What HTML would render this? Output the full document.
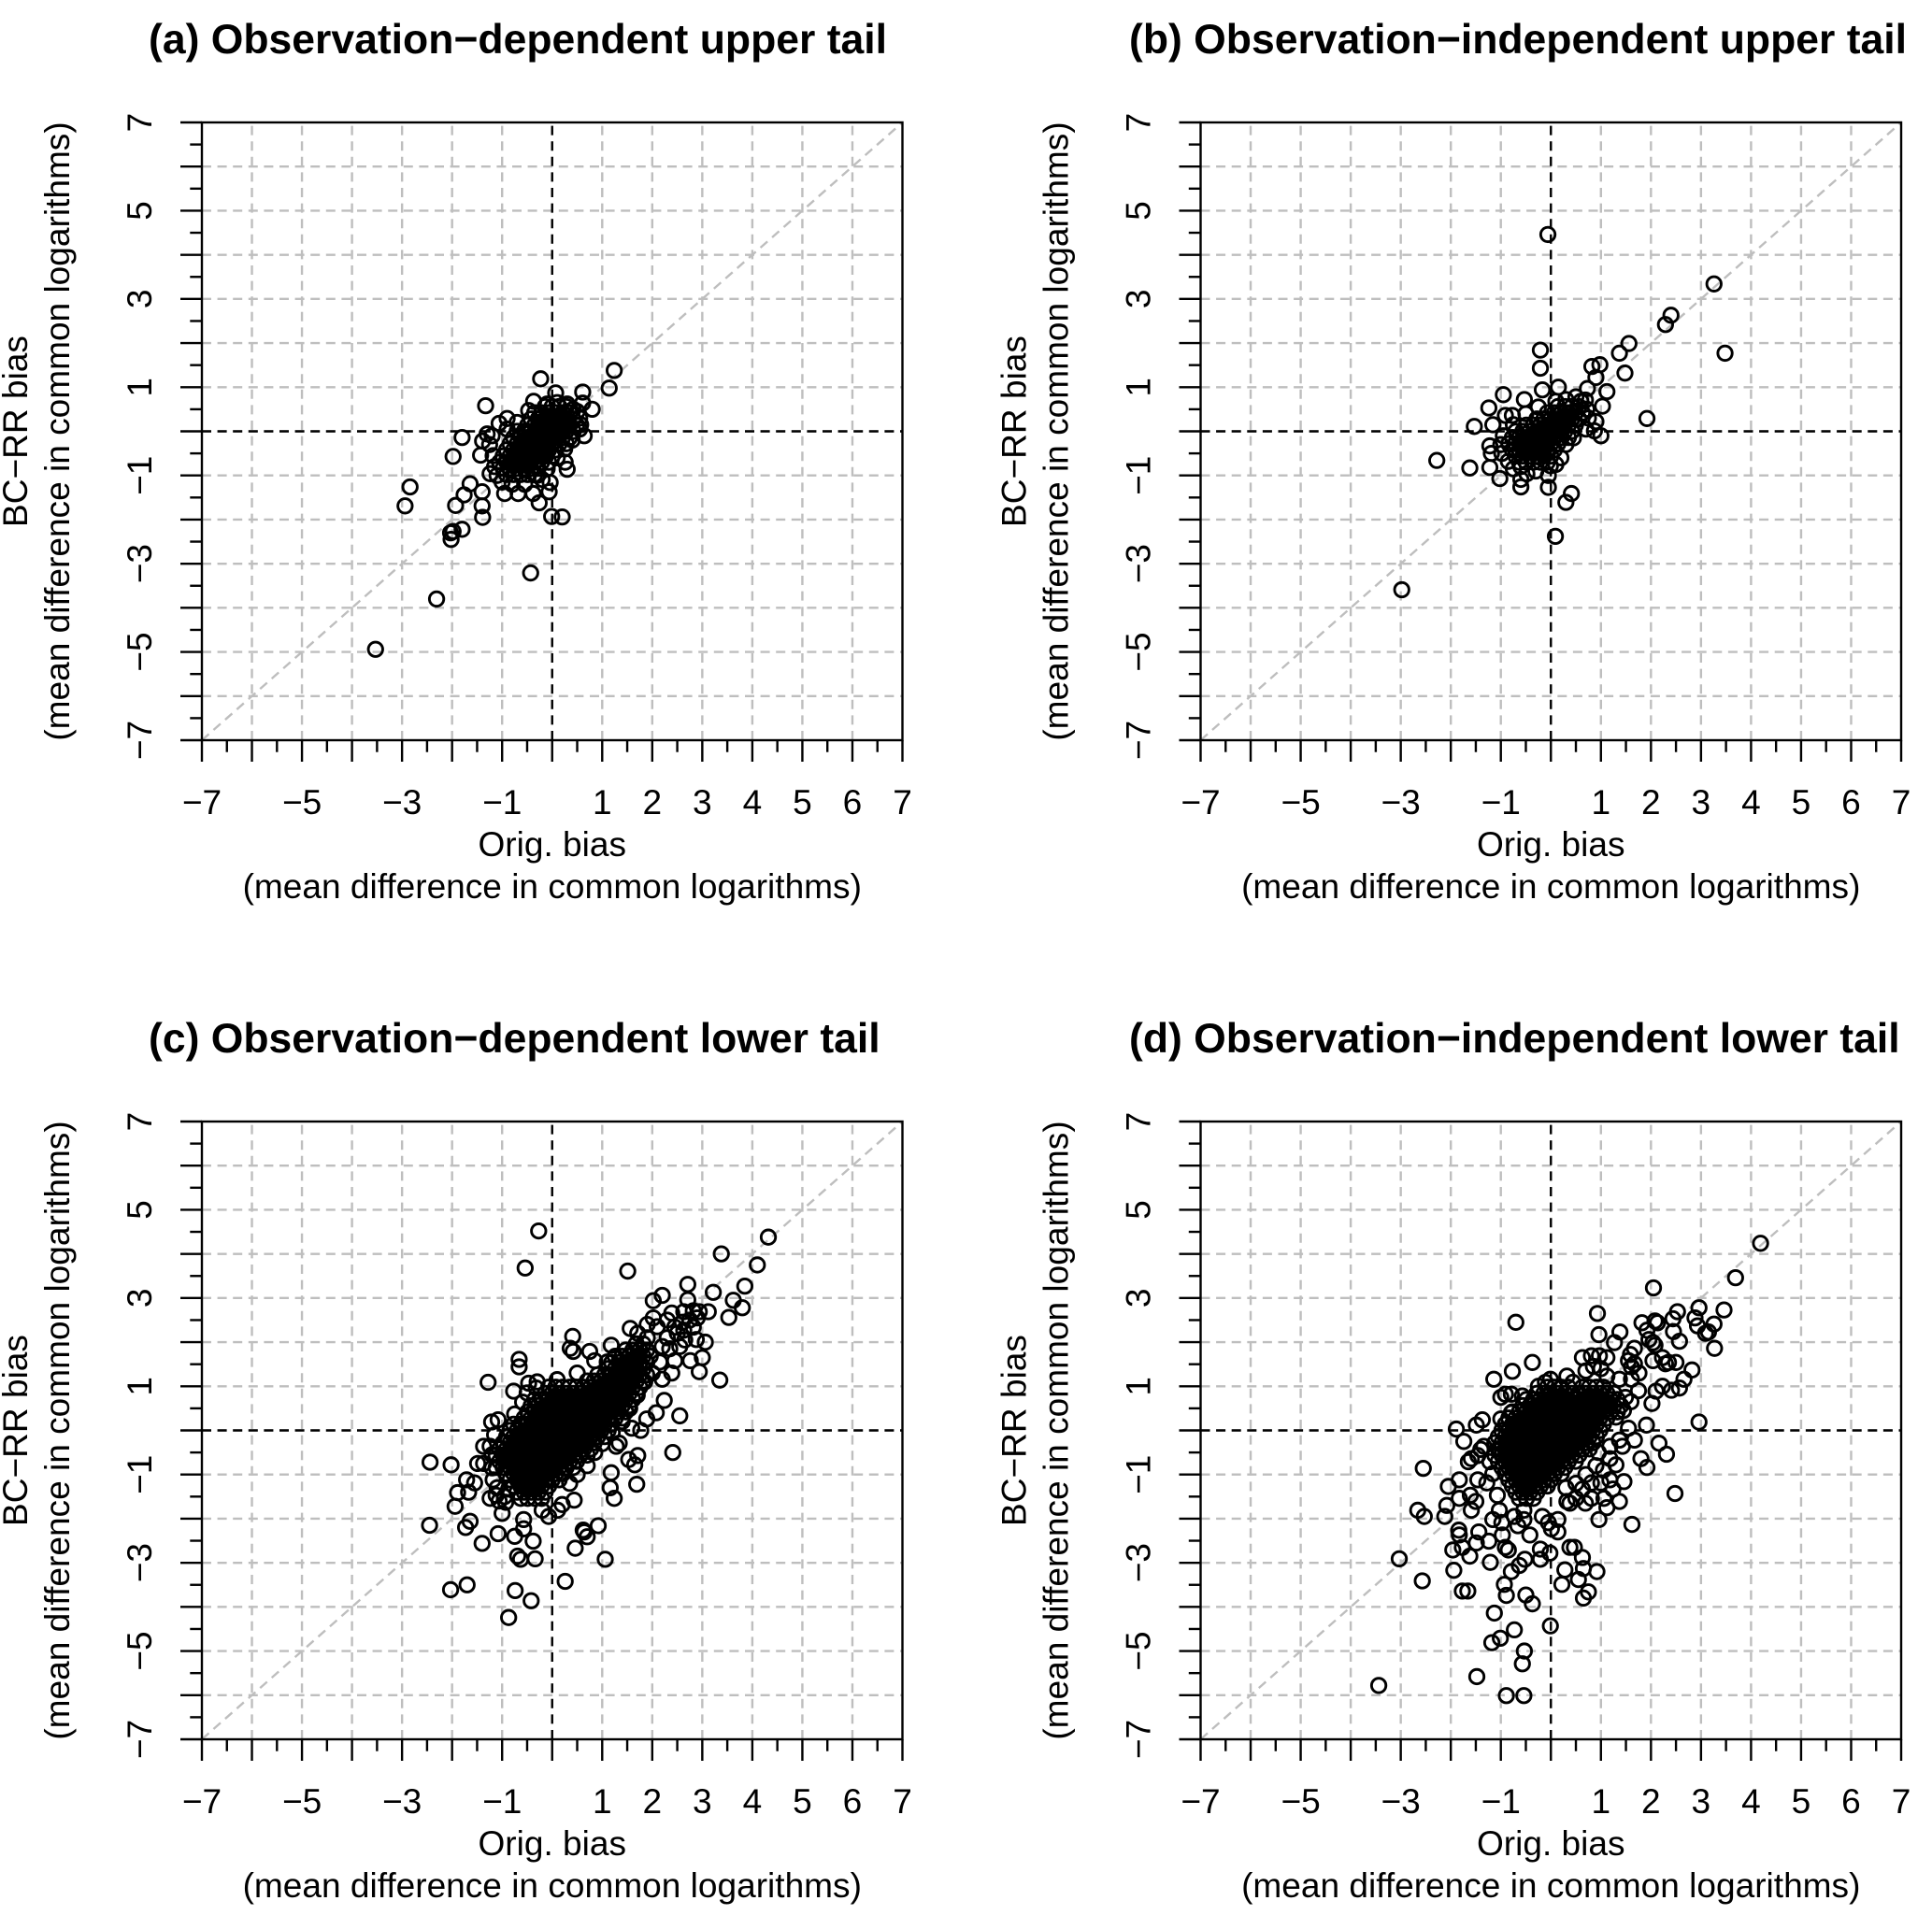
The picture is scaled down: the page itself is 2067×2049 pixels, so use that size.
<!DOCTYPE html>
<html lang="en">
<head>
<meta charset="utf-8">
<title>Bias scatter plots</title>
<style>
html,body{margin:0;padding:0;background:#fff;}
svg{display:block;font-family:"Liberation Sans",Arial,sans-serif;fill:#000;}
</style>
</head>
<body>
<svg id="chart" xmlns="http://www.w3.org/2000/svg" width="2067" height="2049" viewBox="0 0 2067 2049">
<rect x="0" y="0" width="2067" height="2049" fill="#fff"/>
</svg>
<script>
const gridValues = [-6,-5,-4,-3,-2,-1,0,1,2,3,4,5,6];
const majorTicks = [-7,-6,-5,-4,-3,-2,-1,0,1,2,3,4,5,6,7];
const minorTicks = [-6.5,-5.5,-4.5,-3.5,-2.5,-1.5,-0.5,0.5,1.5,2.5,3.5,4.5,5.5,6.5];
const xTickLabels = [-7,-5,-3,-1,1,2,3,4,5,6,7];
const yTickLabels = [-7,-5,-3,-1,1,3,5,7];

const pointsA = [
[1.24,1.38],[1.14,.98],[-.23,1.19],[.07,.87],[.61,.89],[.61,.64],[.8,.5],[-1.33,.58],[-.37,.68],[-.47,.47],[-.9,.29],[-1.06,.18],[-1.8,-.14],[-1.98,-.57],[-1.3,-.06],[-1.39,-.22],[-1.43,-.54],[-1.24,-.96],[-2.84,-1.26],[-2.94,-1.69],[-1.64,-1.19],[-1.76,-1.44],[-1.4,-1.37],[-1.4,-1.69],[-1.39,-1.95],[-1.93,-1.68],[-1.8,-2.22],[-1.98,-2.27],[-2.03,-2.3],[-2.02,-2.45],[-2.31,-3.8],[-3.53,-4.94],[-.43,-3.21],[-.01,-1.93],[.2,-1.94],[-.26,-1.62],[-.38,-1.41],[-.95,-1.41],[-.68,-1.41],[-.06,-1.37],[-.04,-1.16],[-.2,-1.09],[.3,-.86],[.26,-.7],[.64,-.1],[.57,.15],[.42,.5],
[-1.2,-.1],[-1.25,-.3],[-1.18,-.55],[-1.15,-.8],[-1.1,-1],[-1,-1.15],[-.8,-1.2],[-.55,-1.2],[-.3,-1],[-.1,-.85],[.1,-.6],[.25,-.4],[.4,-.2],[.55,.05],[.55,.3],[.5,.45],[.3,.62],[.1,.65],[-.1,.62],[-.7,.2],[-.9,.05],
[-.14,.56],[0,.56],[.14,.56],[.28,.56],
[-.35,.42],[-.21,.42],[-.07,.42],[.07,.42],[.21,.42],[.35,.42],
[-.42,.28],[-.28,.28],[-.14,.28],[0,.28],[.14,.28],[.28,.28],[.42,.28],
[-.49,.14],[-.35,.14],[-.21,.14],[-.07,.14],[.07,.14],[.21,.14],[.35,.14],[.49,.14],
[-.7,0],[-.56,0],[-.42,0],[-.28,0],[-.14,0],[0,0],[.14,0],[.28,0],[.42,0],
[-.77,-.14],[-.63,-.14],[-.49,-.14],[-.35,-.14],[-.21,-.14],[-.07,-.14],[.07,-.14],[.21,-.14],[.35,-.14],
[-.84,-.28],[-.7,-.28],[-.56,-.28],[-.42,-.28],[-.28,-.28],[-.14,-.28],[0,-.28],[.14,-.28],[.28,-.28],
[-.91,-.42],[-.77,-.42],[-.63,-.42],[-.49,-.42],[-.35,-.42],[-.21,-.42],[-.07,-.42],[.07,-.42],
[-.98,-.56],[-.84,-.56],[-.7,-.56],[-.56,-.56],[-.42,-.56],[-.28,-.56],[-.14,-.56],[0,-.56],
[-1.05,-.7],[-.91,-.7],[-.77,-.7],[-.63,-.7],[-.49,-.7],[-.35,-.7],[-.21,-.7],[-.07,-.7],
[-.98,-.84],[-.84,-.84],[-.7,-.84],[-.56,-.84],[-.42,-.84],[-.28,-.84],
[-.91,-.98],[-.77,-.98],[-.63,-.98],[-.49,-.98],[-.35,-.98]
];

const pointsB = [
[-.06,4.46],[3.26,3.34],[2.4,2.63],[2.29,2.42],[3.48,1.77],[1.56,1.99],[1.37,1.77],[-.21,1.84],[-.21,1.43],[.82,1.47],[.98,1.51],[.9,1.22],[1.48,1.32],[1.12,.9],[.73,.97],[1.03,.57],[.15,1],[-.17,.94],[1.92,.29],[1,-.1],[.87,.01],[.9,.22],[.69,.71],[.5,.78],[-.95,.83],[-1.24,.53],[-.53,.72],[-.91,.36],[-.77,.36],[-1.53,.11],[-1.16,.15],[-2.28,-.66],[-1.62,-.83],[-1.22,-.82],[-1.22,-.33],[-1.19,-.5],[-1.02,-1.07],[-.85,-.68],[-.6,-1.09],[-.6,-1.26],[-.48,-.96],[-.05,-1],[-.05,-1.27],[-.01,-.78],[.2,-.6],[.41,-1.41],[.3,-1.61],[.09,-2.38],[-2.98,-3.59],
[-.95,-.1],[-1,-.3],[-.98,-.5],[-.75,-.85],[-.6,-.8],[-.3,-.9],[.1,-.75],[.3,-.3],[.45,-.15],[.7,.05],[.75,.3],[.72,.5],[.6,.68],[.3,.72],[.1,.68],[-.25,.55],[-.5,.4],[-.75,.15],
[.14,.56],[.28,.56],[.42,.56],[.56,.56],
[-.07,.42],[.07,.42],[.21,.42],[.35,.42],[.49,.42],[.63,.42],
[-.28,.28],[-.14,.28],[0,.28],[.14,.28],[.28,.28],[.42,.28],[.56,.28],
[-.49,.14],[-.35,.14],[-.21,.14],[-.07,.14],[.07,.14],[.21,.14],[.35,.14],[.49,.14],
[-.7,0],[-.56,0],[-.42,0],[-.28,0],[-.14,0],[0,0],[.14,0],[.28,0],[.42,0],
[-.77,-.14],[-.63,-.14],[-.49,-.14],[-.35,-.14],[-.21,-.14],[-.07,-.14],[.07,-.14],[.21,-.14],[.35,-.14],
[-.84,-.28],[-.7,-.28],[-.56,-.28],[-.42,-.28],[-.28,-.28],[-.14,-.28],[0,-.28],[.14,-.28],
[-.77,-.42],[-.63,-.42],[-.49,-.42],[-.35,-.42],[-.21,-.42],[-.07,-.42],[.07,-.42],
[-.7,-.56],[-.56,-.56],[-.42,-.56],[-.28,-.56],[-.14,-.56],[0,-.56],
[-.63,-.7],[-.49,-.7],[-.35,-.7],[-.21,-.7],[-.07,-.7]
];

const pointsC = [
[-.27,4.52],[-.54,3.68],[1.51,3.61],[4.32,4.38],[3.38,4],[4.1,3.75],[3.85,3.27],[3.8,2.78],[3.62,2.95],[3.22,3.13],[3.53,2.56],[2.71,3.31],[2.71,2.96],[2.2,3.06],[2.02,2.94],[3.12,2.69],[2.94,2.69],[2.82,2.71],[2.63,2.69],[2.39,2.66],[3.06,2],[2.94,1.33],[3.35,1.14],[2.55,.33],[2.41,-.5],[2.82,2.34],[2.63,2.27],[2.45,2.34],[2.88,2.06],[3,1.65],[2.76,1.58],[2.45,1.58],[2.02,2.55],[1.56,2.31],[1.71,2.2],[1.18,1.93],[.41,2.13],[.36,1.86],[.42,1.79],[.75,1.79],[.85,1.58],
[-.66,1.61],[-.66,1.44],[-1.28,1.09],[-.77,.89],[-.47,1.07],[-.32,.96],[-.59,.64],[-.75,.37],[-1.21,.19],[-1.08,.24],[-1.37,-.36],[-1.24,-.36],[-1.49,-.75],[-1.37,-.75],[-2.44,-.72],[-2.02,-.78],[-1.71,-1.12],[-1.89,-1.41],[-1.67,-1.4],[-1.55,-1.19],[-1.94,-1.72],[-2.45,-2.15],[-1.64,-2.06],[-1.73,-2.2],[-1.4,-2.56],[-1.08,-2.34],[-.75,-2.4],[-.57,-2.02],[-.57,-2.23],[-.38,-2.51],[-.69,-2.85],[-.63,-2.92],[-.34,-2.91],[-2.03,-3.61],[-1.7,-3.5],[-.74,-3.63],[-.42,-3.86],[-.87,-4.24],[.26,-3.42],[1.06,-2.92],[.46,-2.67],[.62,-2.26],[.64,-2.3],[.7,-2.41],[.92,-2.16],
[.44,-1.58],[.11,-1.81],[-.07,-1.95],[.2,-1.68],[-.2,-1.81],[-.93,-1.63],[-1.06,-1.6],[-1,-1.88],[-1.24,-1.54],[-1.18,-1.12],[-1.12,-1.47],[-.87,-1.33],
[1.69,-1.22],[1.65,-.78],[1.71,-.57],[1.53,-.66],[1.24,-1.54],[1.16,-1.3],[1.18,-.96],[1.59,.05],[1.34,-.29],[1.28,-.36],[1.89,.26],[2.08,.4],[2.24,.68],[2.39,1.3],[2.2,1.16],[1.77,0],
[-1.15,-.1],[-1.2,-.55],[-1.2,-.85],[-1.1,-1.3],[-.95,-1.5],[.35,-1.2],[.5,-1],[.7,-.8],[.85,-.5],[1,-.3],[1.2,-.05],[1.4,.2],[1.55,.5],[1.7,.8],[1.85,1.1],[2,1.3],[2.15,1.55],[2.2,1.9],[1.9,2.1],[1.55,1.7],[1.1,1.55],[.5,1.3],[.1,1.15],[-.3,1.1],[-.5,.85],[2.3,2.1],[2.5,2.2],[2.65,2.05],[2.55,1.9],[2.35,1.85],[2.6,2.45],[2.75,2.5],[2.9,2.55],[2.3,2.5],[2.1,2.35],[1.9,2.4],
[1.68,1.96],[1.82,1.96],
[1.47,1.82],[1.61,1.82],[1.75,1.82],[1.89,1.82],
[1.26,1.68],[1.4,1.68],[1.54,1.68],[1.68,1.68],[1.82,1.68],[1.96,1.68],
[1.19,1.54],[1.33,1.54],[1.47,1.54],[1.61,1.54],[1.75,1.54],[1.89,1.54],
[1.12,1.4],[1.26,1.4],[1.4,1.4],[1.54,1.4],[1.68,1.4],[1.82,1.4],
[.91,1.26],[1.05,1.26],[1.19,1.26],[1.33,1.26],[1.47,1.26],[1.61,1.26],[1.75,1.26],[1.89,1.26],
[.7,1.12],[.84,1.12],[.98,1.12],[1.12,1.12],[1.26,1.12],[1.4,1.12],[1.54,1.12],[1.68,1.12],[1.82,1.12],
[-.07,.98],[.07,.98],[.21,.98],[.35,.98],[.49,.98],[.63,.98],[.77,.98],[.91,.98],[1.05,.98],[1.19,.98],[1.33,.98],[1.47,.98],[1.61,.98],[1.75,.98],
[-.14,.84],[0,.84],[.14,.84],[.28,.84],[.42,.84],[.56,.84],[.7,.84],[.84,.84],[.98,.84],[1.12,.84],[1.26,.84],[1.4,.84],[1.54,.84],[1.68,.84],
[-.35,.7],[-.21,.7],[-.07,.7],[.07,.7],[.21,.7],[.35,.7],[.49,.7],[.63,.7],[.77,.7],[.91,.7],[1.05,.7],[1.19,.7],[1.33,.7],[1.47,.7],[1.61,.7],
[-.42,.56],[-.28,.56],[-.14,.56],[0,.56],[.14,.56],[.28,.56],[.42,.56],[.56,.56],[.7,.56],[.84,.56],[.98,.56],[1.12,.56],[1.26,.56],[1.4,.56],[1.54,.56],
[-.49,.42],[-.35,.42],[-.21,.42],[-.07,.42],[.07,.42],[.21,.42],[.35,.42],[.49,.42],[.63,.42],[.77,.42],[.91,.42],[1.05,.42],[1.19,.42],[1.33,.42],[1.47,.42],
[-.56,.28],[-.42,.28],[-.28,.28],[-.14,.28],[0,.28],[.14,.28],[.28,.28],[.42,.28],[.56,.28],[.7,.28],[.84,.28],[.98,.28],[1.12,.28],[1.26,.28],[1.4,.28],
[-.77,.14],[-.63,.14],[-.49,.14],[-.35,.14],[-.21,.14],[-.07,.14],[.07,.14],[.21,.14],[.35,.14],[.49,.14],[.63,.14],[.77,.14],[.91,.14],[1.05,.14],[1.19,.14],
[-.84,0],[-.7,0],[-.56,0],[-.42,0],[-.28,0],[-.14,0],[0,0],[.14,0],[.28,0],[.42,0],[.56,0],[.7,0],[.84,0],[.98,0],[1.12,0],
[-.91,-.14],[-.77,-.14],[-.63,-.14],[-.49,-.14],[-.35,-.14],[-.21,-.14],[-.07,-.14],[.07,-.14],[.21,-.14],[.35,-.14],[.49,-.14],[.63,-.14],[.77,-.14],[.91,-.14],[1.05,-.14],
[-.98,-.28],[-.84,-.28],[-.7,-.28],[-.56,-.28],[-.42,-.28],[-.28,-.28],[-.14,-.28],[0,-.28],[.14,-.28],[.28,-.28],[.42,-.28],[.56,-.28],[.7,-.28],[.84,-.28],
[-1.05,-.42],[-.91,-.42],[-.77,-.42],[-.63,-.42],[-.49,-.42],[-.35,-.42],[-.21,-.42],[-.07,-.42],[.07,-.42],[.21,-.42],[.35,-.42],[.49,-.42],[.63,-.42],[.77,-.42],
[-1.12,-.56],[-.98,-.56],[-.84,-.56],[-.7,-.56],[-.56,-.56],[-.42,-.56],[-.28,-.56],[-.14,-.56],[0,-.56],[.14,-.56],[.28,-.56],[.42,-.56],[.56,-.56],[.7,-.56],
[-1.05,-.7],[-.91,-.7],[-.77,-.7],[-.63,-.7],[-.49,-.7],[-.35,-.7],[-.21,-.7],[-.07,-.7],[.07,-.7],[.21,-.7],[.35,-.7],[.49,-.7],
[-1.12,-.84],[-.98,-.84],[-.84,-.84],[-.7,-.84],[-.56,-.84],[-.42,-.84],[-.28,-.84],[-.14,-.84],[0,-.84],[.14,-.84],[.28,-.84],[.42,-.84],
[-.91,-.98],[-.77,-.98],[-.63,-.98],[-.49,-.98],[-.35,-.98],[-.21,-.98],[-.07,-.98],[.07,-.98],[.21,-.98],
[-.84,-1.12],[-.7,-1.12],[-.56,-1.12],[-.42,-1.12],[-.28,-1.12],[-.14,-1.12],[0,-1.12],[.14,-1.12],
[-.77,-1.26],[-.63,-1.26],[-.49,-1.26],[-.35,-1.26],[-.21,-1.26],[-.07,-1.26],
[-.7,-1.4],[-.56,-1.4],[-.42,-1.4],[-.28,-1.4],[-.14,-1.4],
[-.63,-1.54],[-.49,-1.54],[-.35,-1.54],[-.21,-1.54]
];

const pointsD = [
[4.19,4.24],[3.69,3.46],[2.05,3.23],[3.46,2.73],[2.96,2.78],[2.88,2.55],[2.93,2.37],[2.53,2.69],[2.44,2.53],[3.26,2.41],[3.15,2.23],[3.27,1.86],[3.09,2.2],[.93,2.65],[.96,2.17],[1.38,2.23],[1.27,1.99],[1.82,2.44],[2.08,2.48],[2.13,2.44],[1.92,2.27],[2.45,2.24],[2.57,2.02],[2.04,1.99],[1.96,2.06],[2.08,1.93],[-.7,2.45],[-.37,1.54],[-.77,1.34],[-1.14,1.16],
[1.67,1.86],[1.59,1.72],[1.61,1.44],[2.04,1.58],[2.23,1.65],[2.35,1.54],[2.5,1.54],[2.29,1.51],[2.82,1.37],[2.66,1.16],[2.57,.96],[2.41,.91],[2.23,1],[2.1,.89],[2.02,.61],[2.96,.19],[1.91,.12],[2.16,-.29],[2.31,-.54],[1.92,-.84],[1.8,-.64],[2.48,-1.43],[1.62,-2.13],[.96,-2.02],
[1.37,-1.61],[1.46,-1.16],[1.12,-1.75],[.69,-1.65],[.38,-1.65],
[-.91,.82],[-.79,.82],[-.57,.78],[-1,.75],[-.79,.4],[-1,.26],[-1.37,.24],[-1.49,.12],[-1.89,.03],[-1.74,-.25],
[-2.55,-.86],[-2.05,-1.27],[-1.83,-1.12],[-1.83,-1.54],[-1.61,-1.47],[-1.5,-1.61],[-1.59,-1.81],[-2.08,-1.7],[-2.12,-1.95],[-2.66,-1.81],[-2.53,-1.95],
[-1.84,-2.26],[-1.83,-2.37],[-1.44,-2.3],[-1.49,-2.55],[-1.24,-2.51],[-1.96,-2.71],[-1.77,-2.65],[-1.62,-2.85],[-3.03,-2.91],[-1.94,-3.17],[-1.21,-2.99],[-.91,-2.65],[-.97,-2.37],[-.85,-2.71],[-2.57,-3.41],[-1.77,-3.64],[-1.66,-3.64],
[-.79,-3.2],[-.63,-3.06],[-.52,-2.92],[-.21,-2.92],[-.21,-2.69],[-.02,-2.78],[.38,-2.65],[.47,-2.65],[.63,-2.88],[.65,-3.13],[.28,-3.16],[.92,-3.2],[.22,-3.49],[.55,-3.38],[.75,-3.66],[.65,-3.8],[-.93,-3.49],[-.89,-3.74],[-.5,-3.73],[-.37,-3.93],[-1.13,-4.14],[-.73,-4.52],[-.01,-4.43],[-1.18,-4.81],[-1.01,-4.71],[-.53,-5],[-.57,-5.29],[-1.48,-5.58],[-3.44,-5.78],[-.89,-6.01],[-.54,-6.01],
[-1.16,-2.02],[-.98,-2.09],[-.73,-1.95],[-.54,-2.02],[-.42,-2.37],[-.17,-1.95],[-.05,-2.09],[.14,-2.02],[.14,-2.3],[.01,-2.23],[-.54,-1.81],[-.66,-2.16],[-1.07,-1.47],[-1.03,-1.81],[-1.28,-1.19],[-1.46,-1.12],
[-1.65,-.71],[-1.59,-.64],[-1.46,-.57],[-1.4,-.43],[-1.34,-.36],[-1.22,-.71],[-1.16,-.98],[-1.03,-.43],
[.81,-1.19],[1,-1.19],[1.18,-1.12],[1.3,-.78],[1.24,-1.33],[1.06,-1.54],[.81,-1.54],[.5,-1.54],[.32,-1.61],[.63,-1.33],[1.43,-.36],[1.67,-.22],[1.55,.05],[1.37,-.22],[1.18,-.64],[1.18,-.36],
[-.11,1.09],[-.01,1.16],[.32,1.23],[.44,1.09],[.63,1.65],[.81,1.69],[.97,1.69],[1.12,1.65],[1.12,1.23],[1.37,1.16],[1.49,.75],[1.61,1.16],[1.76,1.3],[1.55,1.58],[1.67,1.51],
[.9,-.8],[1.05,-.9],[.7,-1],[.5,-1.2],[.3,-1.3],[.95,-.5],[1.3,.3],[1.45,.45],[1.6,.65],[1.75,.9],[-.25,1],[.7,1.35],[.85,1.45],[1,1.4],
[-.07,.98],[.07,.98],[.21,.98],[.35,.98],[.63,.98],[.77,.98],[.91,.98],[1.05,.98],
[-.28,.84],[-.14,.84],[0,.84],[.14,.84],[.28,.84],[.42,.84],[.56,.84],[.7,.84],[.84,.84],[.98,.84],[1.12,.84],[1.26,.84],
[-.49,.7],[-.35,.7],[-.21,.7],[-.07,.7],[.07,.7],[.21,.7],[.35,.7],[.49,.7],[.63,.7],[.77,.7],[.91,.7],[1.05,.7],[1.19,.7],[1.33,.7],
[-.56,.56],[-.42,.56],[-.28,.56],[-.14,.56],[0,.56],[.14,.56],[.28,.56],[.42,.56],[.56,.56],[.7,.56],[.84,.56],[.98,.56],[1.12,.56],[1.26,.56],[1.4,.56],
[-.77,.42],[-.63,.42],[-.49,.42],[-.35,.42],[-.21,.42],[-.07,.42],[.07,.42],[.21,.42],[.35,.42],[.49,.42],[.63,.42],[.77,.42],[.91,.42],[1.05,.42],[1.19,.42],[1.33,.42],
[-.84,.28],[-.7,.28],[-.56,.28],[-.42,.28],[-.28,.28],[-.14,.28],[0,.28],[.14,.28],[.28,.28],[.42,.28],[.56,.28],[.7,.28],[.84,.28],[.98,.28],[1.12,.28],
[-.91,.14],[-.77,.14],[-.63,.14],[-.49,.14],[-.35,.14],[-.21,.14],[-.07,.14],[.07,.14],[.21,.14],[.35,.14],[.49,.14],[.63,.14],[.77,.14],[.91,.14],[1.05,.14],
[-.98,0],[-.84,0],[-.7,0],[-.56,0],[-.42,0],[-.28,0],[-.14,0],[0,0],[.14,0],[.28,0],[.42,0],[.56,0],[.7,0],[.84,0],[.98,0],
[-1.05,-.14],[-.91,-.14],[-.77,-.14],[-.63,-.14],[-.49,-.14],[-.35,-.14],[-.21,-.14],[-.07,-.14],[.07,-.14],[.21,-.14],[.35,-.14],[.49,-.14],[.63,-.14],[.77,-.14],[.91,-.14],
[-1.12,-.28],[-.98,-.28],[-.84,-.28],[-.7,-.28],[-.56,-.28],[-.42,-.28],[-.28,-.28],[-.14,-.28],[0,-.28],[.14,-.28],[.28,-.28],[.42,-.28],[.56,-.28],[.7,-.28],[.84,-.28],
[-1.05,-.42],[-.91,-.42],[-.77,-.42],[-.63,-.42],[-.49,-.42],[-.35,-.42],[-.21,-.42],[-.07,-.42],[.07,-.42],[.21,-.42],[.35,-.42],[.49,-.42],[.63,-.42],[.77,-.42],
[-1.12,-.56],[-.98,-.56],[-.84,-.56],[-.7,-.56],[-.56,-.56],[-.42,-.56],[-.28,-.56],[-.14,-.56],[0,-.56],[.14,-.56],[.28,-.56],[.42,-.56],[.56,-.56],
[-1.05,-.7],[-.91,-.7],[-.77,-.7],[-.63,-.7],[-.49,-.7],[-.35,-.7],[-.21,-.7],[-.07,-.7],[.07,-.7],[.21,-.7],[.35,-.7],[.49,-.7],
[-.98,-.84],[-.84,-.84],[-.7,-.84],[-.56,-.84],[-.42,-.84],[-.28,-.84],[-.14,-.84],[0,-.84],[.14,-.84],[.28,-.84],
[-.91,-.98],[-.77,-.98],[-.63,-.98],[-.49,-.98],[-.35,-.98],[-.21,-.98],[-.07,-.98],[.07,-.98],[.21,-.98],
[-.84,-1.12],[-.7,-1.12],[-.56,-1.12],[-.42,-1.12],[-.28,-1.12],[-.14,-1.12],[0,-1.12],
[-.77,-1.26],[-.63,-1.26],[-.49,-1.26],[-.35,-1.26],[-.21,-1.26],[-.07,-1.26],
[-.7,-1.4],[-.56,-1.4],[-.42,-1.4],[-.28,-1.4],
[-.63,-1.54],[-.49,-1.54],[-.35,-1.54]
];

const panelTitles = [
  "(a) Observation\u2212dependent upper tail",
  "(b) Observation\u2212independent upper tail",
  "(c) Observation\u2212dependent lower tail",
  "(d) Observation\u2212independent lower tail"
];
const panelPoints = [pointsA, pointsB, pointsC, pointsD];
const panelKeys = ["a", "b", "c", "d"];

const svgNS = "http://www.w3.org/2000/svg";
const chart = document.getElementById("chart");
const PLOT_W = 749.5, PLOT_H = 661, DOMAIN_MIN = -7, DOMAIN_MAX = 7;
const LEFTS = [216, 1284.5, 216, 1284.5];
const TOPS = [131, 131, 1200, 1200];
const TITLE_X = [159, 1208, 159, 1208];
const LABEL_SIZE = 37.05, TITLE_SIZE = 44.5;
const AXIS_W = 2.4, GRID_W = 2.4, POINT_R = 7.7, POINT_W = 2.9;

function mk(parent, tag, attrs, text) {
  const el = document.createElementNS(svgNS, tag);
  for (const k in attrs) el.setAttribute(k, attrs[k]);
  if (text !== undefined) el.textContent = text;
  parent.appendChild(el);
  return el;
}
function fmt(v) { return v < 0 ? "\u2212" + Math.abs(v) : String(v); }

panelKeys.forEach(function (key, idx) {
  const left = LEFTS[idx], top = TOPS[idx];
  const sx = function (v) { return left + (v - DOMAIN_MIN) / (DOMAIN_MAX - DOMAIN_MIN) * PLOT_W; };
  const sy = function (v) { return top + PLOT_H - (v - DOMAIN_MIN) / (DOMAIN_MAX - DOMAIN_MIN) * PLOT_H; };
  const bottom = top + PLOT_H, right = left + PLOT_W;

  const g = mk(chart, "g", {});
  
  

  const title = mk(g, "text", {x: TITLE_X[idx], y: top - 74, "font-size": TITLE_SIZE, "font-weight": "bold"}, panelTitles[idx]);
  
  

  gridValues.forEach(function (v) {
    const vl = mk(g, "line", {x1: sx(v), x2: sx(v), y1: bottom, y2: top, stroke: "#bebebe", "stroke-width": GRID_W, "stroke-dasharray": "10 6.6"});
    
    
    const hl = mk(g, "line", {x1: left, x2: right, y1: sy(v), y2: sy(v), stroke: "#bebebe", "stroke-width": GRID_W, "stroke-dasharray": "10 6.6"});
    
    
  });
  const diag = mk(g, "line", {x1: sx(-7), y1: sy(-7), x2: sx(7), y2: sy(7), stroke: "#bebebe", "stroke-width": GRID_W, "stroke-dasharray": "10 6.6"});
  
  

  const zv = mk(g, "line", {x1: sx(0), x2: sx(0), y1: bottom, y2: top, stroke: "#000", "stroke-width": GRID_W, "stroke-dasharray": "10 6.6"});
  
  
  const zh = mk(g, "line", {x1: left, x2: right, y1: sy(0), y2: sy(0), stroke: "#000", "stroke-width": GRID_W, "stroke-dasharray": "10 6.6"});
  
  

  const pts = mk(g, "g", {fill: "none", stroke: "#000", "stroke-width": POINT_W});
  
  
  panelPoints[idx].forEach(function (p) {
    const c = mk(pts, "circle", {cx: sx(p[0]), cy: sy(p[1]), r: POINT_R});
    
    
  });

  const box = mk(g, "rect", {x: left, y: top, width: PLOT_W, height: PLOT_H, fill: "none", stroke: "#000", "stroke-width": AXIS_W});
  
  

  majorTicks.forEach(function (v) {
    const tx = mk(g, "line", {x1: sx(v), x2: sx(v), y1: bottom, y2: bottom + 23, stroke: "#000", "stroke-width": AXIS_W});
    
    
    const ty = mk(g, "line", {x1: left, x2: left - 23, y1: sy(v), y2: sy(v), stroke: "#000", "stroke-width": AXIS_W});
    
    
  });
  minorTicks.forEach(function (v) {
    const tx = mk(g, "line", {x1: sx(v), x2: sx(v), y1: bottom, y2: bottom + 12.7, stroke: "#000", "stroke-width": AXIS_W});
    
    
    const ty = mk(g, "line", {x1: left, x2: left - 12.7, y1: sy(v), y2: sy(v), stroke: "#000", "stroke-width": AXIS_W});
    
    
  });

  xTickLabels.forEach(function (v) {
    const t = mk(g, "text", {x: sx(v), y: bottom + 79, "font-size": LABEL_SIZE, "text-anchor": "middle"}, fmt(v));
    
    
  });
  yTickLabels.forEach(function (v) {
    const px = left - 54, py = sy(v);
    const t = mk(g, "text", {x: px, y: py, "font-size": LABEL_SIZE, "text-anchor": "middle", transform: "rotate(-90 " + px + " " + py + ")"}, fmt(v));
    
    
  });

  const cx = left + PLOT_W / 2, cy = top + PLOT_H / 2;
  const xt1 = mk(g, "text", {x: cx, y: bottom + 124, "font-size": LABEL_SIZE, "text-anchor": "middle"}, "Orig. bias");
  
  
  const xt2 = mk(g, "text", {x: cx, y: bottom + 169, "font-size": LABEL_SIZE, "text-anchor": "middle"}, "(mean difference in common logarithms)");
  
  
  const yx1 = left - 187, yx2 = left - 142;
  const yt1 = mk(g, "text", {x: yx1, y: cy, "font-size": LABEL_SIZE, "text-anchor": "middle", transform: "rotate(-90 " + yx1 + " " + cy + ")"}, "BC\u2212RR bias");
  
  
  const yt2 = mk(g, "text", {x: yx2, y: cy, "font-size": LABEL_SIZE, "text-anchor": "middle", transform: "rotate(-90 " + yx2 + " " + cy + ")"}, "(mean difference in common logarithms)");
  
  
});
</script>
</body>
</html>
